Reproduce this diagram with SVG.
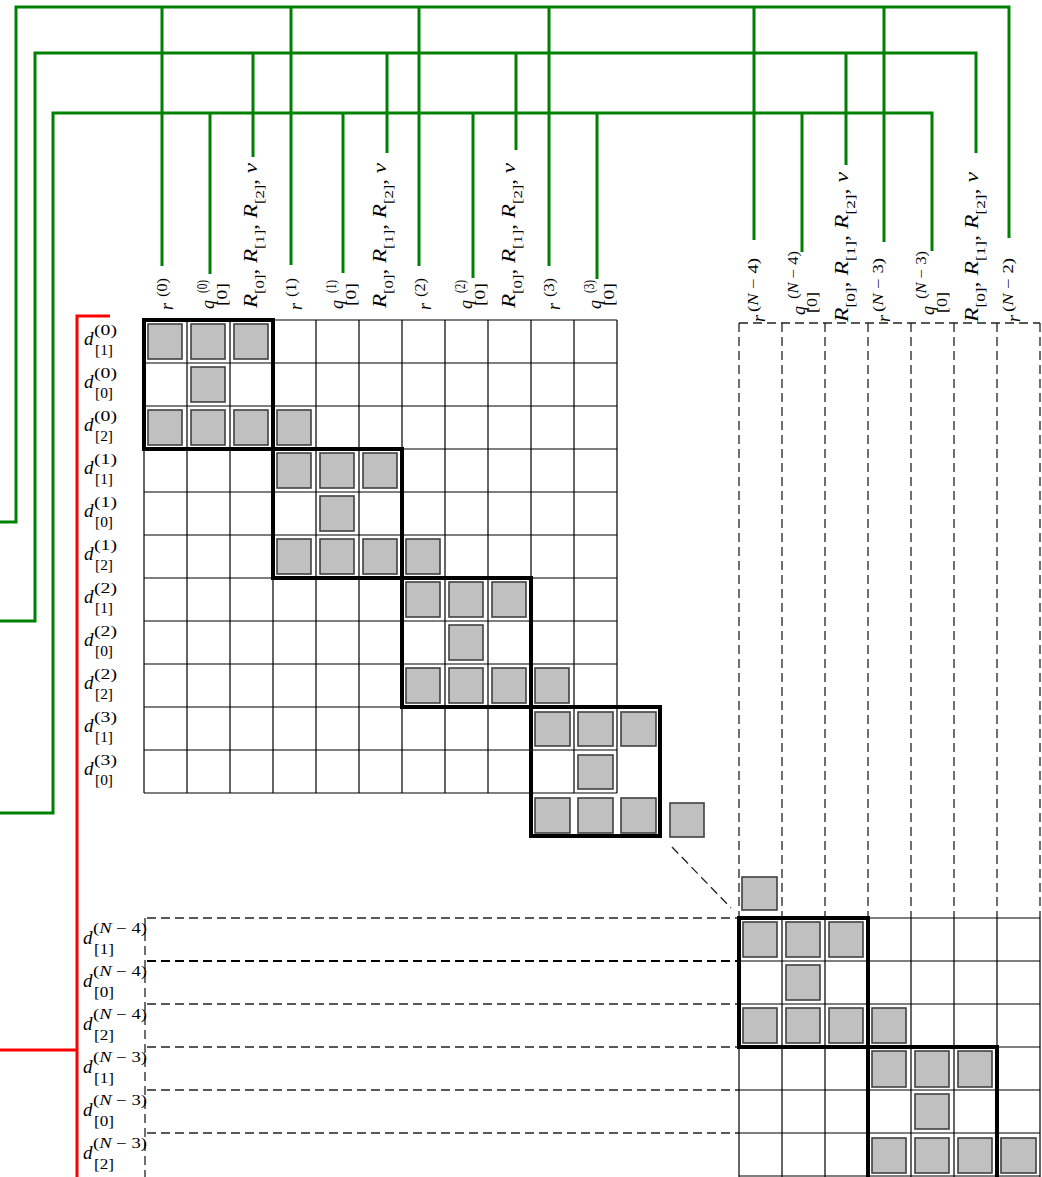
<svg xmlns="http://www.w3.org/2000/svg" width="1042" height="1177" viewBox="0 0 1042 1177">
<style>
.g{stroke:#008000;stroke-width:3;fill:none;stroke-linejoin:miter}
.red{stroke:#ff0000;stroke-width:3;fill:none}
.thin{stroke:#000;stroke-width:1.2;fill:none}
.thick{stroke:#000;stroke-width:4;fill:none}
.cell{fill:#c0c0c0;stroke:#404040;stroke-width:1.6}
.dash{stroke:#222;stroke-width:1.3;stroke-dasharray:9 5;fill:none}
.dashb{stroke:#000;stroke-width:2.2;stroke-dasharray:9 5;fill:none}
text{font-family:"Liberation Serif","DejaVu Serif",serif;fill:#000;font-size:18px}
.i{font-style:italic}
.d{font-size:19px;font-style:italic}
.s{font-size:14px}
.ss{font-size:13px}
</style>
<rect width="1042" height="1177" fill="#fff"/>

<g id="connectors">
  <path class="g" d="M0 522 H16 V7 H1009 V238"/>
  <path class="g" d="M162 7 V266 M291 7 V265 M419 7 V266 M549 7 V266 M754 7 V240 M884 7 V242"/>
  <path class="g" d="M0 621 H35 V53 H976 V153"/>
  <path class="g" d="M253 53 V157 M387 53 V153 M516 53 V150 M846 53 V165"/>
  <path class="g" d="M0 813 H53 V113 H932 V251"/>
  <path class="g" d="M210 113 V274 M343 113 V273 M473 113 V278 M597 113 V279 M802 113 V252"/>
  <path class="red" d="M110 316 H77 V1177 M0 1050 H77"/>
  <path class="dash" d="M672 847 L731 908"/>
</g>

<g id="main-grid">
  <path class="thin" d="M144 320 V793 M187 320 V793 M230 320 V793 M273 320 V793 M316 320 V793 M359 320 V793 M402 320 V793 M445 320 V793 M488 320 V793 M531 320 V793 M574 320 V793 M617 320 V793"/>
  <path class="thin" d="M144 320 H617 M144 363 H617 M144 406 H617 M144 449 H617 M144 492 H617 M144 535 H617 M144 578 H617 M144 621 H617 M144 664 H617 M144 707 H617 M144 750 H617 M144 793 H617"/>
</g>

<g id="block-0">
  <rect class="cell" x="148" y="324" width="34" height="35"/><rect class="cell" x="191" y="324" width="34" height="35"/><rect class="cell" x="234" y="324" width="34" height="35"/>
  <rect class="cell" x="191" y="367" width="34" height="35"/>
  <rect class="cell" x="148" y="410" width="34" height="35"/><rect class="cell" x="191" y="410" width="34" height="35"/><rect class="cell" x="234" y="410" width="34" height="35"/><rect class="cell" x="277" y="410" width="34" height="35"/>
  <rect class="thick" x="144" y="320" width="129" height="129"/>
</g>
<g id="block-1">
  <rect class="cell" x="277" y="453" width="34" height="35"/><rect class="cell" x="320" y="453" width="34" height="35"/><rect class="cell" x="363" y="453" width="34" height="35"/>
  <rect class="cell" x="320" y="496" width="34" height="35"/>
  <rect class="cell" x="277" y="539" width="34" height="35"/><rect class="cell" x="320" y="539" width="34" height="35"/><rect class="cell" x="363" y="539" width="34" height="35"/><rect class="cell" x="406" y="539" width="34" height="35"/>
  <rect class="thick" x="273" y="449" width="129" height="129"/>
</g>
<g id="block-2">
  <rect class="cell" x="406" y="582" width="34" height="35"/><rect class="cell" x="449" y="582" width="34" height="35"/><rect class="cell" x="492" y="582" width="34" height="35"/>
  <rect class="cell" x="449" y="625" width="34" height="35"/>
  <rect class="cell" x="406" y="668" width="34" height="35"/><rect class="cell" x="449" y="668" width="34" height="35"/><rect class="cell" x="492" y="668" width="34" height="35"/><rect class="cell" x="535" y="668" width="34" height="35"/>
  <rect class="thick" x="402" y="578" width="129" height="129"/>
</g>
<g id="block-3">
  <rect class="cell" x="535" y="712" width="35" height="34"/><rect class="cell" x="578" y="712" width="35" height="34"/><rect class="cell" x="621" y="712" width="35" height="34"/>
  <rect class="cell" x="578" y="755" width="35" height="34"/>
  <rect class="cell" x="535" y="798" width="35" height="35"/><rect class="cell" x="578" y="798" width="35" height="35"/><rect class="cell" x="621" y="798" width="35" height="35"/>
  <rect class="cell" x="670" y="803" width="34" height="34"/>
  <rect class="thick" x="531" y="707" width="129" height="129"/>
</g>

<g id="dashed-guides">
  <path class="dash" d="M739 323 H1040"/>
  <path class="dash" d="M739 323 V918 M782 323 V918 M825 323 V918 M868 323 V918 M911 323 V918 M954 323 V918 M997 323 V918 M1040 323 V918"/>
  <path class="dash" d="M145 918 V1177"/>
  <path class="dash" d="M147 918 H739 M147 1004 H739 M147 1047 H739 M147 1090 H739 M147 1133 H739"/>
  <path class="dashb" d="M147 961 H739"/>
</g>

<g id="lower-grid">
  <path class="thin" d="M739 918 V1177 M782 918 V1177 M825 918 V1177 M868 918 V1177 M911 918 V1177 M954 918 V1177 M997 918 V1177 M1040 918 V1177"/>
  <path class="thin" d="M739 918 H1040 M739 961 H1040 M739 1004 H1040 M739 1047 H1040 M739 1090 H1040 M739 1133 H1040 M739 1176 H1040"/>
</g>
<g id="cell-N4-pre"><rect class="cell" x="742" y="877" width="35" height="33"/></g>
<g id="block-N4">
  <rect class="cell" x="743" y="922" width="34" height="35"/><rect class="cell" x="786" y="922" width="34" height="35"/><rect class="cell" x="829" y="922" width="34" height="35"/>
  <rect class="cell" x="786" y="965" width="34" height="35"/>
  <rect class="cell" x="743" y="1008" width="34" height="35"/><rect class="cell" x="786" y="1008" width="34" height="35"/><rect class="cell" x="829" y="1008" width="34" height="35"/><rect class="cell" x="872" y="1008" width="34" height="35"/>
  <rect class="thick" x="739" y="918" width="129" height="129"/>
</g>
<g id="block-N3">
  <rect class="cell" x="872" y="1051" width="34" height="36"/><rect class="cell" x="915" y="1051" width="34" height="36"/><rect class="cell" x="958" y="1051" width="34" height="36"/>
  <rect class="cell" x="915" y="1094" width="34" height="35"/>
  <rect class="cell" x="872" y="1138" width="34" height="35"/><rect class="cell" x="915" y="1138" width="34" height="35"/><rect class="cell" x="958" y="1138" width="34" height="35"/><rect class="cell" x="1001" y="1138" width="35" height="35"/>
  <rect class="thick" x="868" y="1047" width="129" height="140"/>
</g>

<g id="col-labels-main">
  <g id="lbl-r0" transform="translate(172.5,310) rotate(-90)"><text class="i" x="0" y="0">r</text><text class="s" x="13" y="-6" textLength="19" lengthAdjust="spacingAndGlyphs">(0)</text></g>
  <g id="lbl-q0" transform="translate(213.5,309) rotate(-90)"><text class="i" x="0" y="0">q</text><text class="s" x="16" y="-7" textLength="13" lengthAdjust="spacingAndGlyphs">(0)</text><text class="s" x="3" y="13" textLength="23" lengthAdjust="spacingAndGlyphs">[0]</text></g>
  <g id="lbl-R0" transform="translate(257,308) rotate(-90)"><text textLength="145" lengthAdjust="spacingAndGlyphs"><tspan class="i">R</tspan><tspan class="ss" dy="7">[0]</tspan><tspan dy="-7">, </tspan><tspan class="i">R</tspan><tspan class="ss" dy="7">[1]</tspan><tspan dy="-7">, </tspan><tspan class="i">R</tspan><tspan class="ss" dy="7">[2]</tspan><tspan dy="-7">, </tspan><tspan class="i">v</tspan></text></g>
  <g id="lbl-r1" transform="translate(301.5,310) rotate(-90)"><text class="i" x="0" y="0">r</text><text class="s" x="13" y="-6" textLength="19" lengthAdjust="spacingAndGlyphs">(1)</text></g>
  <g id="lbl-q1" transform="translate(342.5,309) rotate(-90)"><text class="i" x="0" y="0">q</text><text class="s" x="16" y="-7" textLength="13" lengthAdjust="spacingAndGlyphs">(1)</text><text class="s" x="3" y="13" textLength="23" lengthAdjust="spacingAndGlyphs">[0]</text></g>
  <g id="lbl-R1" transform="translate(386,308) rotate(-90)"><text textLength="145" lengthAdjust="spacingAndGlyphs"><tspan class="i">R</tspan><tspan class="ss" dy="7">[0]</tspan><tspan dy="-7">, </tspan><tspan class="i">R</tspan><tspan class="ss" dy="7">[1]</tspan><tspan dy="-7">, </tspan><tspan class="i">R</tspan><tspan class="ss" dy="7">[2]</tspan><tspan dy="-7">, </tspan><tspan class="i">v</tspan></text></g>
  <g id="lbl-r2" transform="translate(430.5,310) rotate(-90)"><text class="i" x="0" y="0">r</text><text class="s" x="13" y="-6" textLength="19" lengthAdjust="spacingAndGlyphs">(2)</text></g>
  <g id="lbl-q2" transform="translate(471.5,309) rotate(-90)"><text class="i" x="0" y="0">q</text><text class="s" x="16" y="-7" textLength="13" lengthAdjust="spacingAndGlyphs">(2)</text><text class="s" x="3" y="13" textLength="23" lengthAdjust="spacingAndGlyphs">[0]</text></g>
  <g id="lbl-R2" transform="translate(515,308) rotate(-90)"><text textLength="145" lengthAdjust="spacingAndGlyphs"><tspan class="i">R</tspan><tspan class="ss" dy="7">[0]</tspan><tspan dy="-7">, </tspan><tspan class="i">R</tspan><tspan class="ss" dy="7">[1]</tspan><tspan dy="-7">, </tspan><tspan class="i">R</tspan><tspan class="ss" dy="7">[2]</tspan><tspan dy="-7">, </tspan><tspan class="i">v</tspan></text></g>
  <g id="lbl-r3" transform="translate(559.5,310) rotate(-90)"><text class="i" x="0" y="0">r</text><text class="s" x="13" y="-6" textLength="19" lengthAdjust="spacingAndGlyphs">(3)</text></g>
  <g id="lbl-q3" transform="translate(600.5,309) rotate(-90)"><text class="i" x="0" y="0">q</text><text class="s" x="16" y="-7" textLength="13" lengthAdjust="spacingAndGlyphs">(3)</text><text class="s" x="3" y="13" textLength="23" lengthAdjust="spacingAndGlyphs">[0]</text></g>
</g>

<g id="col-labels-lower">
  <g id="lbl-rN4" transform="translate(765,322) rotate(-90)"><text class="i" x="0" y="0">r</text><text class="s" x="10" y="-7" textLength="54" lengthAdjust="spacingAndGlyphs">(<tspan class="i">N</tspan> − 4)</text></g>
  <g id="lbl-qN4" transform="translate(805,315) rotate(-90)"><text class="i" x="0" y="0">q</text><text class="s" x="16" y="-7" textLength="48" lengthAdjust="spacingAndGlyphs">(<tspan class="i">N</tspan> − 4)</text><text class="s" x="2" y="12" textLength="21" lengthAdjust="spacingAndGlyphs">[0]</text></g>
  <g id="lbl-RN4" transform="translate(848,322) rotate(-90)"><text textLength="150" lengthAdjust="spacingAndGlyphs"><tspan class="i">R</tspan><tspan class="ss" dy="7">[0]</tspan><tspan dy="-7">, </tspan><tspan class="i">R</tspan><tspan class="ss" dy="7">[1]</tspan><tspan dy="-7">, </tspan><tspan class="i">R</tspan><tspan class="ss" dy="7">[2]</tspan><tspan dy="-7">, </tspan><tspan class="i">v</tspan></text></g>
  <g id="lbl-rN3" transform="translate(890,322) rotate(-90)"><text class="i" x="0" y="0">r</text><text class="s" x="10" y="-7" textLength="54" lengthAdjust="spacingAndGlyphs">(<tspan class="i">N</tspan> − 3)</text></g>
  <g id="lbl-qN3" transform="translate(934,315) rotate(-90)"><text class="i" x="0" y="0">q</text><text class="s" x="16" y="-8" textLength="48" lengthAdjust="spacingAndGlyphs">(<tspan class="i">N</tspan> − 3)</text><text class="s" x="2" y="13" textLength="21" lengthAdjust="spacingAndGlyphs">[0]</text></g>
  <g id="lbl-RN3" transform="translate(978,322) rotate(-90)"><text textLength="150" lengthAdjust="spacingAndGlyphs"><tspan class="i">R</tspan><tspan class="ss" dy="7">[0]</tspan><tspan dy="-7">, </tspan><tspan class="i">R</tspan><tspan class="ss" dy="7">[1]</tspan><tspan dy="-7">, </tspan><tspan class="i">R</tspan><tspan class="ss" dy="7">[2]</tspan><tspan dy="-7">, </tspan><tspan class="i">v</tspan></text></g>
  <g id="lbl-rN2" transform="translate(1020,322) rotate(-90)"><text class="i" x="0" y="0">r</text><text class="s" x="10" y="-7" textLength="54" lengthAdjust="spacingAndGlyphs">(<tspan class="i">N</tspan> − 2)</text></g>
</g>

<g id="row-labels-main">
  <g id="row-0"><text class="d" x="84" y="345">d</text><text class="s" x="94" y="335" textLength="23" lengthAdjust="spacingAndGlyphs">(0)</text><text class="s" x="95" y="355" textLength="18" lengthAdjust="spacingAndGlyphs">[1]</text></g>
  <g id="row-1"><text class="d" x="84" y="388">d</text><text class="s" x="94" y="378" textLength="23" lengthAdjust="spacingAndGlyphs">(0)</text><text class="s" x="95" y="398" textLength="18" lengthAdjust="spacingAndGlyphs">[0]</text></g>
  <g id="row-2"><text class="d" x="84" y="431">d</text><text class="s" x="94" y="421" textLength="23" lengthAdjust="spacingAndGlyphs">(0)</text><text class="s" x="95" y="441" textLength="18" lengthAdjust="spacingAndGlyphs">[2]</text></g>
  <g id="row-3"><text class="d" x="84" y="474">d</text><text class="s" x="94" y="464" textLength="23" lengthAdjust="spacingAndGlyphs">(1)</text><text class="s" x="95" y="484" textLength="18" lengthAdjust="spacingAndGlyphs">[1]</text></g>
  <g id="row-4"><text class="d" x="84" y="517">d</text><text class="s" x="94" y="507" textLength="23" lengthAdjust="spacingAndGlyphs">(1)</text><text class="s" x="95" y="527" textLength="18" lengthAdjust="spacingAndGlyphs">[0]</text></g>
  <g id="row-5"><text class="d" x="84" y="560">d</text><text class="s" x="94" y="550" textLength="23" lengthAdjust="spacingAndGlyphs">(1)</text><text class="s" x="95" y="570" textLength="18" lengthAdjust="spacingAndGlyphs">[2]</text></g>
  <g id="row-6"><text class="d" x="84" y="603">d</text><text class="s" x="94" y="593" textLength="23" lengthAdjust="spacingAndGlyphs">(2)</text><text class="s" x="95" y="613" textLength="18" lengthAdjust="spacingAndGlyphs">[1]</text></g>
  <g id="row-7"><text class="d" x="84" y="646">d</text><text class="s" x="94" y="636" textLength="23" lengthAdjust="spacingAndGlyphs">(2)</text><text class="s" x="95" y="656" textLength="18" lengthAdjust="spacingAndGlyphs">[0]</text></g>
  <g id="row-8"><text class="d" x="84" y="689">d</text><text class="s" x="94" y="679" textLength="23" lengthAdjust="spacingAndGlyphs">(2)</text><text class="s" x="95" y="699" textLength="18" lengthAdjust="spacingAndGlyphs">[2]</text></g>
  <g id="row-9"><text class="d" x="84" y="732">d</text><text class="s" x="94" y="722" textLength="23" lengthAdjust="spacingAndGlyphs">(3)</text><text class="s" x="95" y="742" textLength="18" lengthAdjust="spacingAndGlyphs">[1]</text></g>
  <g id="row-10"><text class="d" x="84" y="775">d</text><text class="s" x="94" y="765" textLength="23" lengthAdjust="spacingAndGlyphs">(3)</text><text class="s" x="95" y="785" textLength="18" lengthAdjust="spacingAndGlyphs">[0]</text></g>
</g>

<g id="row-labels-lower">
  <g id="row-N4-1"><text class="d" x="83" y="944">d</text><text class="s" x="93" y="933" textLength="54" lengthAdjust="spacingAndGlyphs">(<tspan class="i">N</tspan> − 4)</text><text class="s" x="94" y="954" textLength="20" lengthAdjust="spacingAndGlyphs">[1]</text></g>
  <g id="row-N4-0"><text class="d" x="83" y="987">d</text><text class="s" x="93" y="976" textLength="54" lengthAdjust="spacingAndGlyphs">(<tspan class="i">N</tspan> − 4)</text><text class="s" x="94" y="997" textLength="20" lengthAdjust="spacingAndGlyphs">[0]</text></g>
  <g id="row-N4-2"><text class="d" x="83" y="1030">d</text><text class="s" x="93" y="1019" textLength="54" lengthAdjust="spacingAndGlyphs">(<tspan class="i">N</tspan> − 4)</text><text class="s" x="94" y="1040" textLength="20" lengthAdjust="spacingAndGlyphs">[2]</text></g>
  <g id="row-N3-1"><text class="d" x="83" y="1073">d</text><text class="s" x="93" y="1062" textLength="54" lengthAdjust="spacingAndGlyphs">(<tspan class="i">N</tspan> − 3)</text><text class="s" x="94" y="1083" textLength="20" lengthAdjust="spacingAndGlyphs">[1]</text></g>
  <g id="row-N3-0"><text class="d" x="83" y="1116">d</text><text class="s" x="93" y="1105" textLength="54" lengthAdjust="spacingAndGlyphs">(<tspan class="i">N</tspan> − 3)</text><text class="s" x="94" y="1126" textLength="20" lengthAdjust="spacingAndGlyphs">[0]</text></g>
  <g id="row-N3-2"><text class="d" x="83" y="1159">d</text><text class="s" x="93" y="1148" textLength="54" lengthAdjust="spacingAndGlyphs">(<tspan class="i">N</tspan> − 3)</text><text class="s" x="94" y="1169" textLength="20" lengthAdjust="spacingAndGlyphs">[2]</text></g>
</g>
</svg>
